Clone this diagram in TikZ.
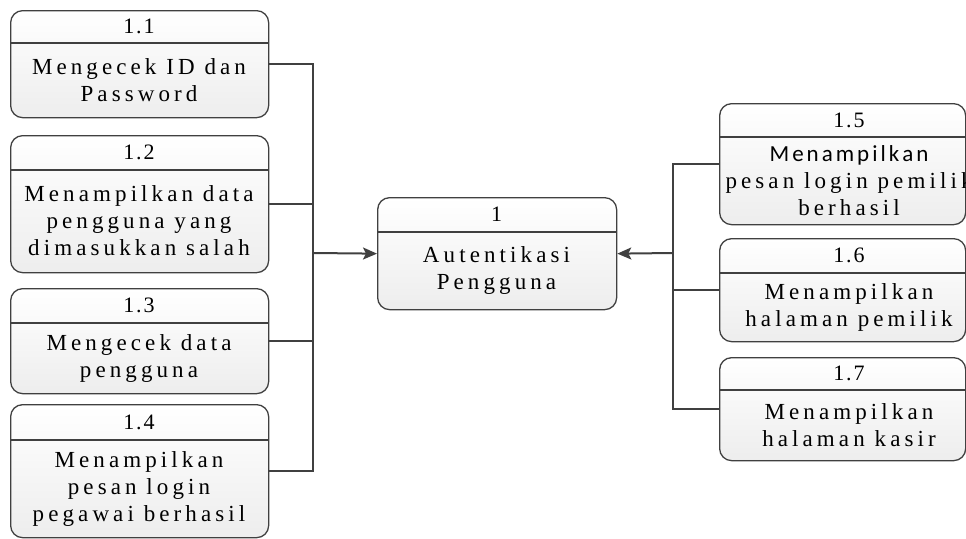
\documentclass[tikz,border=0pt]{standalone}
\usepackage{fontspec}
\setmainfont{Liberation Serif}
\newfontfamily\boxsans{Carlito}
\usetikzlibrary{arrows.meta}

% tracking: a kern between consecutive letters, digits and periods
\newXeTeXintercharclass\trackclass
\newdimen\trackgap
\count255=`a \loop \XeTeXcharclass\count255=\trackclass \ifnum\count255<`z \advance\count255 by 1 \repeat
\count255=`A \loop \XeTeXcharclass\count255=\trackclass \ifnum\count255<`Z \advance\count255 by 1 \repeat
\count255=`0 \loop \XeTeXcharclass\count255=\trackclass \ifnum\count255<`9 \advance\count255 by 1 \repeat
\XeTeXcharclass`.=\trackclass
\XeTeXinterchartoks\trackclass\trackclass={\kern\trackgap}
\newcommand\tracked[1]{\trackgap=#1\spaceskip=\dimexpr\fontdimen2\font+\trackgap\relax
  \XeTeXinterchartokenstate=1 }

\definecolor{edgegray}{HTML}{404040}
\tikzset{
  procbox/.style={draw=edgegray, line width=1.3pt, rounded corners=12pt,
    top color=white, bottom color=gray!14, inner sep=0pt},
  divider/.style={draw=edgegray, line width=1.3pt},
  numtext/.style={inner sep=0pt,
    font={\rmfamily\fontsize{22}{24}\selectfont\tracked{2pt}}},
  bodytext/.style={inner sep=0pt, align=center,
    font={\rmfamily\fontsize{23}{27}\selectfont\tracked{4.1pt}}},
  link/.style={draw=edgegray, line width=1.5pt},
  flow/.style={draw=edgegray, line width=2pt,
    -{Stealth[length=14pt,width=12pt,inset=3pt]}},
}
% \procbox[text shift]{name}{left}{top}{right}{bottom}{divider y}{number}{text}
\newcommand\procbox[9][0]{%
  \node[procbox, anchor=north west,
        minimum width={(#5-#3)*1pt}, minimum height={(#6-#4)*1pt}] (#2) at (#3,#4) {};
  \draw[divider] (#3,#7) -- (#5,#7);
  \node[numtext] (#2num) at ({(#3+#5)/2+#1},{(#4+#7)/2}) {#8};
  \node[bodytext] (#2txt) at ({(#3+#5)/2+#1},{(#7+#6)/2}) {#9};
}
\begin{document}
\begin{tikzpicture}[x=1pt,y=-1pt]
  \useasboundingbox (0,0) rectangle (966,538);

  % sub-processes on the left
  \procbox{p11}{10}{10}{268}{117}{43}{1.1}{Mengecek ID dan\\Password}
  \procbox{p12}{10}{135}{268}{272}{170}{1.2}{Menampilkan data\\pengguna yang\\dimasukkan salah}
  \procbox{p13}{10}{288}{268}{393}{323}{1.3}{Mengecek data\\pengguna}
  \procbox{p14}{10}{404}{268}{537}{440}{1.4}{Menampilkan\\pesan login\\pegawai berhasil}

  % main process
  \procbox{p1}{377}{197}{616}{309}{232}{1}{Autentikasi\\Pengguna}

  % sub-processes on the right
  \procbox[7]{p15}{719}{103}{965}{224}{137}{1.5}{%
    \boxsans\fontsize{23}{28}\selectfont\tracked{3pt}Menampilkan\\pesan login pemilik\\berhasil}
  \procbox[7]{p16}{719}{238}{965}{341}{273}{1.6}{Menampilkan\\halaman pemilik}
  \procbox[7]{p17}{719}{357}{965}{460}{390}{1.7}{Menampilkan\\halaman kasir}

  % collecting buses
  \coordinate (lbus) at (313,253);
  \coordinate (rbus) at (673,253);

  \draw[link] (p11.east) -| (lbus);
  \draw[link] (p12.east) -| (lbus);
  \draw[link] (p13.east) -| (lbus);
  \draw[link] (p14.east) -| (lbus);
  \draw[flow] (lbus) -- (p1.west);

  \draw[link] (p15.west) -| (rbus);
  \draw[link] (p16.west) -| (rbus);
  \draw[link] (p17.west) -| (rbus);
  \draw[flow] (rbus) -- (p1.east);
\end{tikzpicture}
\end{document}
